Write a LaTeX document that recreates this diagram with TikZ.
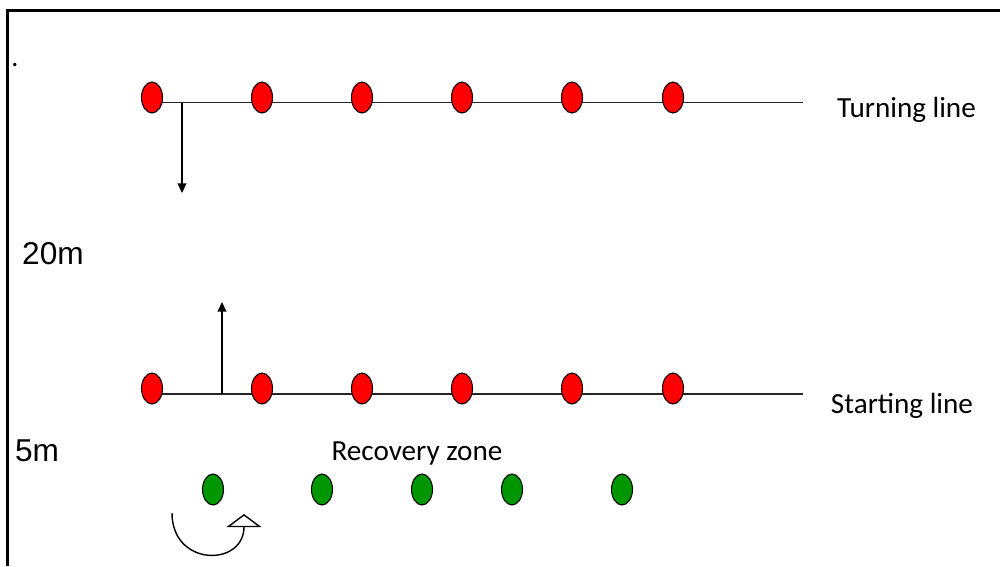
\documentclass[tikz,border=0pt]{standalone}
\usepackage{fontspec}
\setmainfont{Carlito}
\newfontfamily\arialfont{Liberation Sans}
\usetikzlibrary{shapes.geometric,arrows.meta}

\tikzset{
  cone/.style={ellipse, draw=black, line width=0.6pt, inner sep=0pt,
               minimum width=0.42cm, minimum height=0.62cm},
  redcone/.style={cone, fill=red},
  greencone/.style={cone, fill={rgb,255:red,0;green,150;blue,0}},
  courtline/.style={draw=black!85, line width=0.8pt},
  runarrow/.style={draw=black, line width=0.8pt, -{Triangle[length=5.5pt,width=5pt]}},
  turnarrow/.style={draw=black, line width=0.8pt, -{Triangle[open,length=7.5pt,width=20pt,line width=0.8pt]}},
  label/.style={font=\fontsize{16.6}{19}\selectfont, inner sep=0pt},
  dist/.style={font=\arialfont\fontsize{18}{21}\selectfont, inner sep=0pt},
}

\begin{document}
\begin{tikzpicture}[x=0.02cm, y=-0.02cm]
  \useasboundingbox (0,0) rectangle (1000,566);

  % frame
  \draw[line width=1.7pt] (7.5,566) -- (7.5,10.5) -- (1000,10.5);
  \node[font=\fontsize{16}{19}\selectfont, inner sep=0pt] (dot) at (15,65) {.};

  % turning line
  \coordinate (tl0) at (160,102.5);
  \coordinate (tl1) at (803,102.5);
  \coordinate (tdown) at (182,102.5);
  \coordinate (tdownend) at (182,193);
  \draw[courtline] (tl0) -- (tl1);
  \draw[runarrow] (tdown) -- (tdownend);
  \foreach \x [count=\i] in {152,262,362,462,572,673}
    \node[redcone] (t\i) at (\x,97.5) {};

  % starting line
  \coordinate (sl0) at (160,394);
  \coordinate (sl1) at (803,394);
  \coordinate (sup) at (222,394);
  \coordinate (supend) at (222,302);
  \draw[courtline] (sl0) -- (sl1);
  \draw[runarrow] (sup) -- (supend);
  \foreach \x [count=\i] in {152,262,362,462,572,673}
    \node[redcone] (s\i) at (\x,388.5) {};

  % recovery zone cones
  \foreach \x [count=\i] in {213,322,422,512,622}
    \node[greencone] (g\i) at (\x,489.5) {};

  % turn-around arrow
  \coordinate (ta0) at (172,513);
  \coordinate (ta1) at (244,514);
  \draw[turnarrow] (ta0) .. controls (172,567) and (244,567) .. (ta1);

  % labels
  \node[label] (turning) at (906.5,110) {Turning line};
  \node[label] (starting) at (902,406) {Starting line};
  \node[label] (recovery) at (417,453) {Recovery zone};
  \node[dist] (d20) at (53,254) {20m};
  \node[dist] (d5) at (37,451) {5m};
\end{tikzpicture}
\end{document}
